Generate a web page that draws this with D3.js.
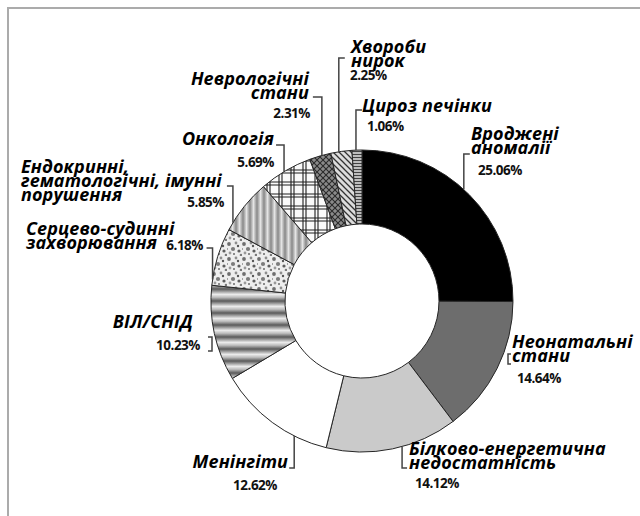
<!DOCTYPE html>
<html>
<head>
<meta charset="utf-8">
<script src="https://cdn.jsdelivr.net/npm/d3@7"></script>
<style>
body { margin: 0; background: #fff; }
</style>
</head>
<body>
<div id="chart"></div>
<script>
// data
var names = [
    ["Вроджені", "аномалії"],
    ["Неонатальні", "стани"],
    ["Білково-енергетична", "недостатність"],
    ["Менінгіти"],
    ["ВІЛ/СНІД"],
    ["Серцево-судинні", "захворювання"],
    ["Ендокринні,", "гематологічні, імунні", "порушення"],
    ["Онкологія"],
    ["Неврологічні", "стани"],
    ["Хвороби", "нирок"],
    ["Цироз печінки"]
];
var values = [25.06, 14.64, 14.12, 12.62, 10.23, 6.18, 5.85, 5.69, 2.31, 2.25, 1.06];
var pctLabels = ["25.06%", "14.64%", "14.12%", "12.62%", "10.23%", "6.18%", "5.85%", "5.69%", "2.31%", "2.25%", "1.06%"];

// look of each slice
var fills = ["#000", "#6d6d6d", "#cacaca", "#fff", "url(#hiv)", "url(#dots)",
             "url(#vstripe)", "url(#plaid)", "url(#neuro)", "url(#kidney)", "url(#liver)"];

// label placement (x,y = baseline of first line; p = percent text; lead = leader line)
var layout = [
    {x: 471, y: 140, a: "start", px: 478, py: 175, pa: "start", lead: {f: 0.47, y1: 154, t: 6}},
    {x: 512, y: 348, a: "start", px: 517, py: 383, pa: "start", lead: {bx: 508, y1: 354, y2: 364, t: 3}},
    {x: 409, y: 455, a: "start", px: 415, py: 488, pa: "start", lead: {f: 0.427, y1: 468, t: 5}},
    {x: 288, y: 468, a: "end", px: 277, py: 490, pa: "end", lead: {f: 0.285, y1: 468, t: -5}},
    {x: 193, y: 328, a: "end", px: 200, py: 350, pa: "end", lead: {bx: 212, y1: 337, y2: 351, t: -4}},
    {x: 26, y: 235, a: "start", px: 203, py: 250, pa: "end", lead: {f: 0.1, y1: 248, t: -6}},
    {x: 21, y: 173, a: "start", px: 224, py: 207, pa: "end", lead: {f: 0.144, y1: 186, t: -6}},
    {x: 274, y: 145, a: "end", px: 274, py: 167, pa: "end", lead: {f: 0.47, y1: 145, t: -8}},
    {x: 309, y: 85, a: "end", px: 310, py: 118, pa: "end", lead: {f: 0.58, y1: 97, t: -9}},
    {x: 351, y: 53, a: "start", px: 350, py: 80, pa: "start", lead: {f: 0.38, y1: 58, t: 6}},
    {x: 362, y: 112, a: "start", px: 367, py: 131, pa: "start", lead: {f: 0.4, y1: 110, t: 6}}
];

var w = 640, h = 516;
var cx = 362, cy = 301, R = 151, r = 77;
var lineH = 14;

var svg = d3.select("#chart").append("svg").attr("width", w).attr("height", h);
svg.append("rect").attr("width", w).attr("height", h).attr("fill", "#fff");

// frame
svg.append("path").attr("d", "M8,516 V8 H640").attr("fill", "none")
    .attr("stroke", "#ababab").attr("stroke-width", 2);

// patterns
var defs = svg.append("defs");

function gradient(id, horizontal, stops) {
    var g = defs.append("linearGradient").attr("id", id)
        .attr("x1", 0).attr("y1", 0)
        .attr("x2", horizontal ? 1 : 0).attr("y2", horizontal ? 0 : 1);
    stops.forEach(function(s) {
        g.append("stop").attr("offset", s[0]).attr("stop-color", s[1]);
    });
}
gradient("gHiv", false, [[0, "#5a5a5a"], [0.45, "#ececec"], [0.7, "#bbbbbb"], [1, "#5a5a5a"]]);
gradient("gVs", true, [[0, "#888"], [0.5, "#e4e4e4"], [1, "#888"]]);

var p;
p = defs.append("pattern").attr("id", "hiv").attr("patternUnits", "userSpaceOnUse").attr("width", 20).attr("height", 12);
p.append("rect").attr("width", 20).attr("height", 12).attr("fill", "url(#gHiv)");

p = defs.append("pattern").attr("id", "vstripe").attr("patternUnits", "userSpaceOnUse").attr("width", 7).attr("height", 20);
p.append("rect").attr("width", 7).attr("height", 20).attr("fill", "url(#gVs)");

p = defs.append("pattern").attr("id", "dots").attr("patternUnits", "userSpaceOnUse").attr("width", 15).attr("height", 15);
p.append("rect").attr("width", 15).attr("height", 15).attr("fill", "#eeeeee");
[[2, 3, 1.9, "#6e6e6e"], [9, 2, 1.4, "#8e8e8e"], [6, 8, 2.1, "#7c7c7c"], [12, 10, 1.6, "#5e5e5e"],
 [3, 12, 1.4, "#9a9a9a"], [11, 5, 1.2, "#555"], [14, 14, 1.3, "#7a7a7a"], [7, 13, 1.0, "#6a6a6a"],
 [0, 8, 1.0, "#888"]].forEach(function(c) {
    p.append("circle").attr("cx", c[0]).attr("cy", c[1]).attr("r", c[2]).attr("fill", c[3]);
});

p = defs.append("pattern").attr("id", "plaid").attr("patternUnits", "userSpaceOnUse").attr("width", 12).attr("height", 12);
p.append("rect").attr("width", 12).attr("height", 12).attr("fill", "#fafafa");
p.append("path").attr("d", "M1,0V12M4,0V12M0,1H12M0,4H12").attr("stroke", "#1e1e1e").attr("stroke-width", 1.1);

p = defs.append("pattern").attr("id", "neuro").attr("patternUnits", "userSpaceOnUse").attr("width", 6).attr("height", 6);
p.append("rect").attr("width", 6).attr("height", 6).attr("fill", "#8a8a8a");
p.append("path").attr("d", "M0,6L6,0M0,0L6,6").attr("stroke", "#2a2a2a").attr("stroke-width", 1.1);

p = defs.append("pattern").attr("id", "kidney").attr("patternUnits", "userSpaceOnUse").attr("width", 6).attr("height", 6);
p.append("rect").attr("width", 6).attr("height", 6).attr("fill", "#dcdcdc");
p.append("path").attr("d", "M-1,-1L7,7M-1,5L1,7M5,-1L7,1").attr("stroke", "#333").attr("stroke-width", 1.3);

p = defs.append("pattern").attr("id", "liver").attr("patternUnits", "userSpaceOnUse").attr("width", 4).attr("height", 3);
p.append("rect").attr("width", 4).attr("height", 3).attr("fill", "#bdbdbd");
p.append("path").attr("d", "M0,0.5H4").attr("stroke", "#333").attr("stroke-width", 0.9);

// donut
var pie = d3.pie().sort(null).value(function(d) { return d; });
var arcs = pie(values);
var arc = d3.arc().innerRadius(r).outerRadius(R);

var g = svg.append("g").attr("transform", "translate(" + cx + "," + cy + ")");
g.selectAll("path").data(arcs).enter().append("path")
    .attr("d", arc)
    .attr("fill", function(d, i) { return fills[i]; })
    .attr("stroke", "#262626")
    .attr("stroke-width", 1);

// leader lines
var leads = svg.append("g").attr("fill", "none").attr("stroke", "#444").attr("stroke-width", 1.5);
layout.forEach(function(L, i) {
    var ld = L.lead, d;
    if (ld.bx !== undefined) {
        d = "M" + (ld.bx + ld.t) + "," + ld.y1 + "H" + ld.bx + "V" + ld.y2 + "H" + (ld.bx + ld.t);
    } else {
        var s = arcs[i];
        var a = s.startAngle + ld.f * (s.endAngle - s.startAngle);
        var x = cx + R * Math.sin(a), y = cy - R * Math.cos(a);
        d = "M" + x + "," + y + "V" + ld.y1 + "h" + ld.t;
    }
    leads.append("path").attr("d", d);
});

// labels
var labels = svg.append("g");
layout.forEach(function(L, i) {
    var t = labels.append("text")
        .attr("text-anchor", L.a)
        .style("font-family", "'Open Sans', sans-serif")
        .style("font-style", "italic")
        .style("font-weight", 700)
        .style("font-size", "18px")
        .style("letter-spacing", "0.1px")
        .attr("fill", "#000");
    names[i].forEach(function(line, k) {
        t.append("tspan").attr("x", L.x).attr("y", L.y + k * lineH).text(line);
    });
    labels.append("text")
        .attr("x", L.px).attr("y", L.py)
        .attr("text-anchor", L.pa)
        .style("font-family", "'Open Sans', sans-serif")
        .style("font-weight", 700)
        .style("font-size", "13.5px")
        .style("letter-spacing", "-0.5px")
        .attr("fill", "#111")
        .text(pctLabels[i]);
});
</script>
</body>
</html>
